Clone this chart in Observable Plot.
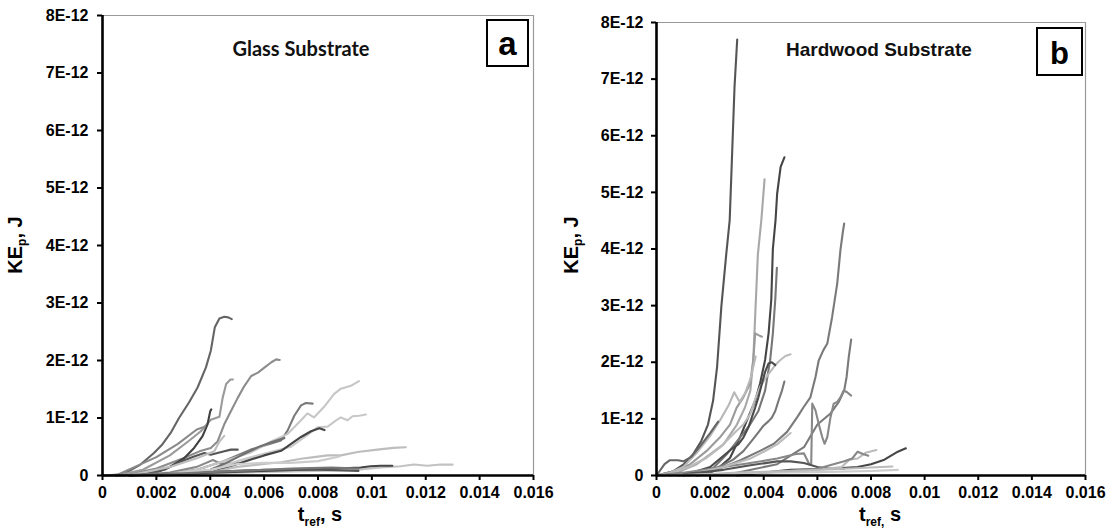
<!DOCTYPE html>
<html><head><meta charset="utf-8">
<script src="https://cdn.jsdelivr.net/npm/d3@7"></script>
<script src="https://cdn.jsdelivr.net/npm/@observablehq/plot@0.6"></script>
<style>
body{margin:0;background:#fff;}
#wrap{position:relative;width:1112px;height:531px;overflow:hidden;}
.panel{position:absolute;top:0;}
</style></head><body>
<div id="wrap"><div class="panel" id="pa" style="left:0"></div><div class="panel" id="pb" style="left:556px"></div></div>
<script>
// ticks
const xTicks = [0, 0.002, 0.004, 0.006, 0.008, 0.01, 0.012, 0.014, 0.016];
const yTicks = [0, 1e-12, 2e-12, 3e-12, 4e-12, 5e-12, 6e-12, 7e-12, 8e-12];

// Panel a: Glass substrate. Each series: [time (ms), KE (units of 1E-12 J)]
const glass1 = [[0,0],[0.785,0.023],[1.41,0.19],[1.91,0.39],[2.22,0.54],[2.53,0.74],[2.84,1.0],[3.21,1.27],[3.53,1.53],[3.84,1.88],[4.02,2.17],[4.17,2.58],[4.34,2.73],[4.52,2.76],[4.67,2.75],[4.8,2.72]];
const glass2 = [[0,0],[1.0,0.02],[2.0,0.12],[3.0,0.3],[3.6,0.42],[4.02,0.48],[4.27,0.59],[4.52,0.89],[4.77,1.12],[5.02,1.35],[5.27,1.56],[5.52,1.73],[5.77,1.79],[6.02,1.88],[6.27,1.97],[6.45,2.02],[6.58,2.01]];
const glass3 = [[0.5,0],[1.5,0.1],[2.5,0.35],[3.2,0.6],[3.65,0.77],[4.02,0.97],[4.34,1.02],[4.46,1.35],[4.59,1.59],[4.75,1.67],[4.84,1.67]];
const glass4 = [[1.0,0],[2.0,0.05],[2.5,0.15],[3.03,0.3],[3.4,0.48],[3.71,0.68],[3.9,0.89],[4.0,1.12],[4.04,1.15]];
const glass5 = [[0.5,0],[1.2,0.15],[2.0,0.32],[2.8,0.55],[3.5,0.8],[3.8,0.85]];
const glass6 = [[1.0,0],[1.5,0.02],[2.3,0.1],[2.8,0.22],[3.4,0.33],[3.78,0.39],[4.02,0.36],[4.27,0.39],[4.52,0.42],[4.77,0.45],[5.02,0.45]];
const glass7 = [[1.0,0],[2.5,0.15],[3.5,0.3],[4.15,0.42],[4.34,0.59],[4.52,0.69]];
const glass8 = [[1.0,0],[2.5,0.05],[3.5,0.15],[4.1,0.27],[4.4,0.2],[5.0,0.22]];
const glass9 = [[2.0,0],[3.5,0.1],[4.5,0.25],[5.5,0.45],[6.2,0.55],[6.63,0.61],[6.87,0.78],[7.12,1.04],[7.37,1.22],[7.55,1.26],[7.8,1.25]];
const glass10 = [[2.0,0],[3.5,0.1],[4.5,0.25],[5.5,0.4],[6.3,0.6],[6.87,0.72],[7.37,0.96],[7.61,1.08],[7.85,1.01],[8.22,1.19],[8.6,1.42],[8.85,1.51],[9.22,1.56],[9.52,1.64]];
const glass11 = [[2.5,0],[4.0,0.1],[5.0,0.25],[6.0,0.38],[7.0,0.5],[7.6,0.7],[7.99,0.84],[8.36,0.85],[8.67,0.96],[8.85,1.01],[9.1,0.96],[9.28,1.03],[9.53,1.04],[9.78,1.06]];
const glass12 = [[2.0,0],[4.0,0.05],[5.0,0.2],[6.0,0.35],[6.63,0.43],[7.0,0.55],[7.37,0.67],[7.74,0.77],[8.05,0.82],[8.24,0.79]];
const glass13 = [[2.0,0],[3.0,0.02],[4.0,0.1],[4.6,0.22],[5.15,0.35],[5.77,0.49],[6.26,0.58],[6.75,0.65]];
const glass14 = [[2.0,0],[4.0,0.05],[5.0,0.15],[6.0,0.2],[6.63,0.23],[7.37,0.29],[7.85,0.32],[8.36,0.35],[8.85,0.35],[9.47,0.41],[10.2,0.45],[10.8,0.48],[11.26,0.49]];
const glass15 = [[1.0,0],[3.0,0.03],[5.0,0.05],[8.0,0.08],[9.5,0.1],[10.3,0.14],[11.07,0.16],[11.56,0.19],[12.06,0.17],[12.55,0.19],[13.0,0.19]];
const glass16 = [[1.0,0],[2.5,0.02],[4.0,0.05],[6.0,0.08],[8.0,0.11],[9.58,0.14],[9.95,0.16],[10.33,0.17],[10.76,0.17]];
const glass17 = [[0.5,0],[2.0,0.02],[4.0,0.06],[6.0,0.1],[8.0,0.1],[9.5,0.08]];
const glass18 = [[2.0,0],[4.0,0.1],[5.0,0.2],[6.0,0.22],[7.0,0.22],[8.0,0.25],[8.8,0.33]];
const glass19 = [[0,0],[1.0,0.01],[3.0,0.04],[5.0,0.08],[7.0,0.12],[8.5,0.14],[9.5,0.12]];
const glassSeries = [glass1,glass2,glass3,glass4,glass5,glass6,glass7,glass8,glass9,glass10,glass11,glass12,glass13,glass14,glass15,glass16,glass17,glass18,glass19];
const glassColors = ["#656565","#8c8c8c","#9a9a9a","#404040","#8a8a8a","#555555","#bdbdbd","#8a8a8a","#7a7a7a","#c6c6c6","#c8c8c8","#444444","#707070","#bdbdbd","#c2c2c2","#454545","#555555","#cccccc","#777777"];

// Panel b: Hardwood substrate
const wood1 = [[0,0],[0.6,0.07],[1.0,0.19],[1.36,0.37],[1.67,0.61],[1.92,0.9],[2.11,1.32],[2.26,1.92],[2.42,2.99],[2.6,3.9],[2.73,4.51],[2.82,5.68],[2.91,6.86],[3.01,7.7]];
const wood2 = [[0.5,0],[1.5,0.2],[2.5,0.55],[3.0,0.9],[3.3,1.2],[3.5,1.5],[3.61,2.04],[3.68,2.81],[3.78,3.9],[3.91,4.51],[4.03,5.23]];
const wood3 = [[1.5,0],[1.86,0.02],[2.23,0.1],[2.74,0.31],[3.11,0.67],[3.36,0.96],[3.68,1.32],[3.86,1.62],[4.05,2.04],[4.18,2.51],[4.28,3.1],[4.34,4.0],[4.44,4.51],[4.5,4.98],[4.63,5.45],[4.77,5.62]];
const wood4 = [[0.8,0],[1.23,0.02],[2.11,0.13],[2.61,0.37],[3.11,0.67],[3.49,0.9],[3.8,1.14],[4.05,1.5],[4.24,2.04],[4.34,2.51],[4.43,3.11],[4.49,3.67]];
const wood5 = [[0,0],[0.6,0.07],[1.23,0.19],[1.86,0.43],[2.36,0.67],[2.74,0.9],[2.99,1.2],[3.24,1.38],[3.49,1.62],[3.61,2.04],[3.68,2.51],[3.8,2.48],[3.93,2.45]];
const wood6 = [[0,0],[0.6,0.05],[1.23,0.16],[1.86,0.31],[2.36,0.49],[2.74,0.67],[2.99,0.79],[3.24,0.9],[3.49,1.08],[3.68,1.35],[3.86,1.56],[4.05,1.71],[4.24,1.83],[4.43,1.95],[4.62,2.04],[4.81,2.11],[5.0,2.14]];
const wood7 = [[1.0,0],[2.0,0.15],[2.5,0.35],[2.86,0.49],[3.05,0.55],[3.24,0.67],[3.43,0.85],[3.55,1.02],[3.68,1.2],[3.8,1.38],[3.93,1.62],[4.05,1.83],[4.18,1.98],[4.3,2.0],[4.43,1.95]];
const wood8 = [[1.2,0],[1.86,0.07],[2.36,0.16],[2.86,0.28],[3.24,0.43],[3.55,0.61],[3.8,0.76],[3.99,0.88],[4.18,0.96],[4.3,1.02],[4.43,1.14],[4.55,1.32],[4.68,1.5],[4.77,1.66]];
const wood9 = [[0.3,0],[1.0,0.15],[1.5,0.4],[2.0,0.7],[2.4,1.0],[2.7,1.25],[2.9,1.47],[3.1,1.3],[3.3,1.45],[3.5,1.7],[3.7,2.1]];
const wood10 = [[1.0,0],[1.86,0.04],[2.51,0.15],[3.13,0.27],[3.88,0.44],[4.38,0.56],[4.87,0.77],[5.25,1.03],[5.49,1.21],[5.74,1.38],[5.93,1.74],[6.05,2.03],[6.22,2.21],[6.37,2.33],[6.55,2.8],[6.74,3.39],[6.86,3.98],[6.95,4.3],[7.0,4.45]];
const wood11 = [[3.0,0.05],[4.5,0.2],[5.5,0.5],[6.0,0.9],[6.5,1.1],[6.8,1.3],[7.0,1.5],[7.09,1.74],[7.17,2.09],[7.26,2.4]];
const wood12 = [[0,0],[1.0,0.05],[2.5,0.15],[3.5,0.22],[4.5,0.3],[5.2,0.38],[5.5,0.39],[5.7,0.2],[5.77,0.2],[5.81,1.27],[5.93,1.15],[6.05,0.91],[6.18,0.68],[6.27,0.56],[6.37,0.68],[6.49,1.03],[6.61,1.27],[6.74,1.3],[6.86,1.38],[6.98,1.5],[7.11,1.47],[7.26,1.41]];
const wood13 = [[1.5,0.05],[2.5,0.15],[3.5,0.3],[4.0,0.42],[4.5,0.55],[5.0,0.75]];
const wood14 = [[1.0,0.02],[2.5,0.1],[3.5,0.18],[4.5,0.25],[5.0,0.25],[5.5,0.22],[6.0,0.15],[6.5,0.12],[7.0,0.12]];
const wood15 = [[3.0,0],[5.0,0.1],[6.5,0.12],[7.5,0.15],[8.0,0.2],[8.5,0.28],[9.0,0.42],[9.3,0.48]];
const wood16 = [[4.0,0.05],[6.0,0.1],[6.9,0.15],[7.2,0.28],[7.5,0.3],[7.8,0.4],[8.2,0.45]];
const wood17 = [[4.0,0.05],[6.0,0.12],[7.0,0.25],[7.3,0.3],[7.5,0.42],[7.7,0.38],[7.9,0.35]];
const wood18 = [[0,0],[2.0,0.02],[4.0,0.05],[6.0,0.06],[8.0,0.08],[9.0,0.1]];
const wood19 = [[1.0,0],[3.0,0.05],[5.0,0.08],[7.0,0.12],[8.8,0.16]];
const wood20 = [[0,0],[0.3,0.2],[0.5,0.27],[0.8,0.27],[1.0,0.25],[1.3,0.33],[1.6,0.5],[2.0,0.75],[2.3,0.95]];
const woodSeries = [wood1,wood2,wood3,wood4,wood5,wood6,wood7,wood8,wood9,wood10,wood11,wood12,wood13,wood14,wood15,wood16,wood17,wood18,wood19,wood20];
const woodColors = ["#555555","#a8a8a8","#454545","#777777","#9a9a9a","#bbbbbb","#4a4a4a","#777777","#b8b8b8","#7a7a7a","#7a7a7a","#888888","#bbbbbb","#555555","#454545","#bbbbbb","#888888","#cccccc","#bbbbbb","#666666"];

function toTable(series, colors) {
  const rows = [];
  series.forEach((s, i) => s.forEach(([t, e]) => rows.push({id: i, t: t / 1000, e: e * 1e-12, c: colors[i]})));
  return rows;
}
const fmtY = d => d === 0 ? "0" : `${Math.round(d * 1e12)}E-12`;
const fmtX = d => String(+d.toFixed(3));
const FF = '"Liberation Sans", Arial, sans-serif';

function panel(series, colors, m) {
  return Plot.plot({
    width: 556, height: 531,
    marginLeft: m.left, marginRight: m.right, marginTop: m.top, marginBottom: m.bottom,
    x: {domain: [0, 0.016]}, y: {domain: [0, 8e-12]},
    color: {type: "identity"},
    style: {fontFamily: FF, fontSize: "16px", fontWeight: "bold", color: "#000", background: "#fff"},
    marks: [
      Plot.ruleY([8e-12], {stroke: "#9a9a9a", strokeWidth: 1.2}),
      Plot.ruleX([0.016], {stroke: "#9a9a9a", strokeWidth: 1.2}),
      Plot.line(toTable(series, colors), {x: "t", y: "e", z: "id", stroke: "c", strokeWidth: 2.1, strokeLinejoin: "round"}),
      Plot.axisX({ticks: xTicks, tickFormat: fmtX, tickSize: 5, tickPadding: 6, strokeWidth: 2, label: null}),
      Plot.axisY({ticks: yTicks, tickFormat: fmtY, tickSize: 5, tickPadding: m.ypad, strokeWidth: 2, label: null}),
      Plot.ruleX([0], {stroke: "#000", strokeWidth: 2.6}),
      Plot.ruleY([0], {stroke: "#000", strokeWidth: 2.6})
    ]
  });
}

function decorate(svg, d) {
  const s = d3.select(svg);
  // make tick labels bold 16px explicitly
  s.selectAll('g[aria-label="x-axis tick label"], g[aria-label="y-axis tick label"]')
    .attr("font-weight", "bold").attr("font-size", 16).attr("font-family", FF)
    .style("font-weight", "bold").style("font-size", "16px");
  s.selectAll('g[aria-label="x-axis tick label"] text, g[aria-label="y-axis tick label"] text')
    .style("font-weight", "bold");
  // y label
  const yl = s.append("text").attr("transform", `translate(${d.ylx},245) rotate(-90)`)
    .attr("text-anchor", "middle").attr("font-family", FF).attr("font-size", 20).attr("font-weight", "bold").attr("fill", "#000");
  yl.append("tspan").text("KE");
  yl.append("tspan").attr("font-size", 12).attr("dy", 4).text("p");
  yl.append("tspan").attr("dy", -4).text(", J");
  // x label
  const xl = s.append("text").attr("x", d.xlx).attr("y", 521)
    .attr("text-anchor", "middle").attr("font-family", FF).attr("font-size", 20).attr("font-weight", "bold").attr("fill", "#000");
  xl.append("tspan").text("t");
  xl.append("tspan").attr("font-size", 12).attr("dy", 5).text(d.sub);
  xl.append("tspan").attr("dy", -5).text(d.rest);
  // title
  s.append("text").attr("x", d.tx).attr("y", 56).attr("text-anchor", d.tanchor)
    .attr("font-family", d.tfont).attr("font-size", d.tsize).attr("font-weight", "bold").attr("fill", "#111").text(d.title);
  // letter box
  s.append("rect").attr("x", d.bx).attr("y", d.by).attr("width", d.bw).attr("height", d.bh)
    .attr("fill", "#fff").attr("stroke", "#000").attr("stroke-width", 2);
  s.append("text").attr("x", d.bx + d.bw / 2).attr("y", d.by + d.bh - 11).attr("text-anchor", "middle")
    .attr("font-family", FF).attr("font-size", d.lsize).attr("font-weight", "bold").attr("fill", "#000").text(d.letter);
}

const a = panel(glassSeries, glassColors, {left: 102, right: 23, top: 15, bottom: 56, ypad: 9});
decorate(a, {ylx: 22, xlx: 320, sub: "ref", rest: ", s", tx: 301, tanchor: "middle", tfont: 'Lato, "Open Sans", sans-serif', tsize: 20, title: "Glass Substrate", bx: 487, by: 20, bw: 41, bh: 46, letter: "a", lsize: 33});
document.getElementById("pa").appendChild(a);

const b = panel(woodSeries, woodColors, {left: 100, right: 27, top: 22, bottom: 56, ypad: 8});
decorate(b, {ylx: 22, xlx: 324, sub: "ref,", rest: " s", tx: 230, tanchor: "start", tfont: FF, tsize: 19, title: "Hardwood Substrate", bx: 481, by: 28, bw: 45, bh: 47, letter: "b", lsize: 31});
document.getElementById("pb").appendChild(b);
</script>
</body></html>
